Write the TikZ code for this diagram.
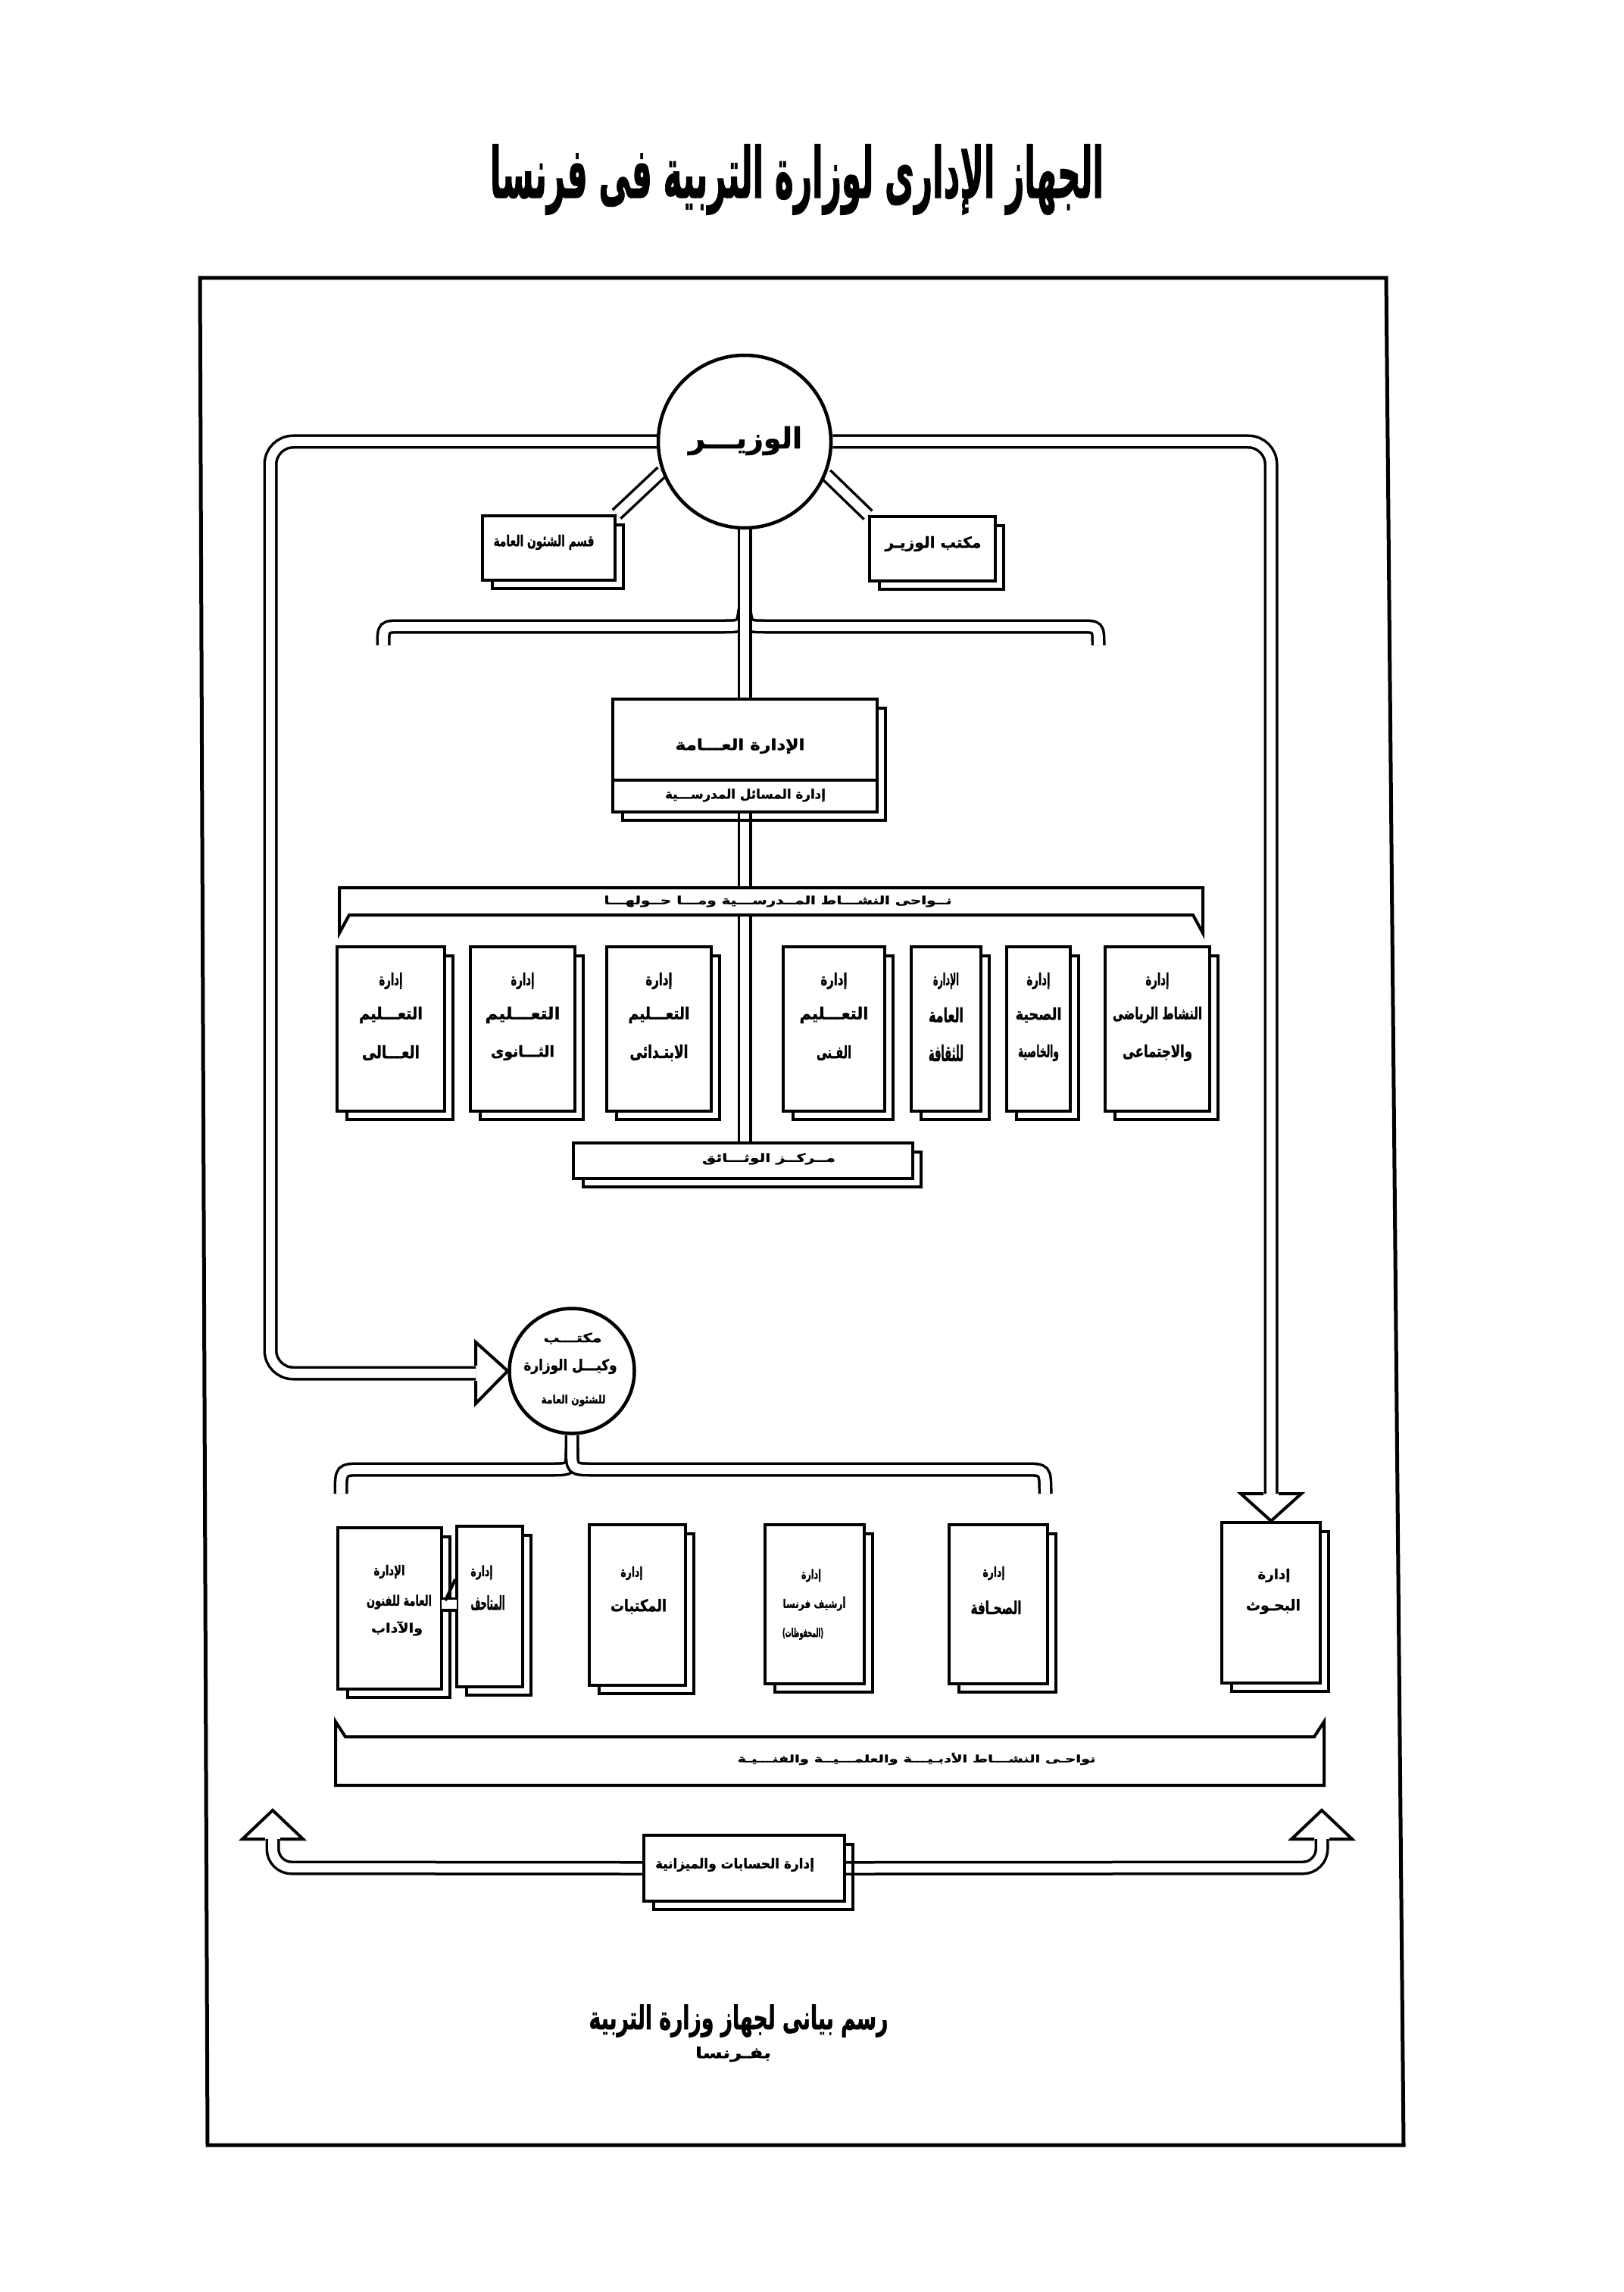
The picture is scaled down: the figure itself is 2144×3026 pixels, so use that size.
\documentclass[tikz,border=0pt]{standalone}
\usepackage{fontspec}
\usetikzlibrary{fit}
\newfontfamily\arfont[Script=Arabic, BoldFeatures={FakeBold=1.5}]{DejaVu Sans}
\TeXXeTstate=1
\newlength\pxu \setlength\pxu{0.1mm}
\newcommand{\AR}[3]{\resizebox*{#1\pxu}{#2\pxu}{\arfont\bfseries #3}}
\pgfdeclarelayer{back}\pgfdeclarelayer{bg}\pgfsetlayers{back,bg,main}
\newcommand{\shad}[1]{\draw[ln] ([yshift=-14\pxu]#1.north east) -- ++(9,0) |- ([xshift=15\pxu,yshift=-9\pxu]#1.south west) -- ([xshift=15\pxu]#1.south west);}
\begin{document}
\begin{tikzpicture}[x=0.1mm,y=-0.1mm,
 box/.style={draw, line width=4\pxu, fill=white, inner sep=0pt},
 ln/.style={line width=4\pxu, line join=miter},
 pipe/.style={double, double distance=12\pxu, line width=3.5\pxu},
 txt/.style={inner sep=0pt},
 circ/.style={circle, draw, line width=4.5\pxu, fill=white, inner sep=0pt}]
\useasboundingbox (0,0) rectangle (2144,3026);
\begin{pgfonlayer}{back}
\fill[white] (0,0) rectangle (2144,3026);
\end{pgfonlayer}
% title
\node[txt] (title) at (1052,237) {\AR{810}{93}{\beginR الجهاز الإدارى لوزارة التربية فى فرنسا\endR}};
% frame
\draw[line width=5\pxu] (264,367) -- (1830,367) -- (1853,2832) -- (274,2832) -- cycle;
% minister
\node[circ, minimum size=228\pxu] (min) at (983,583) {};
\node[txt] (mint) at (984,582) {\AR{150}{38}{\beginR الوزيـــر\endR}};
% small boxes
\node[box, fit={(637,681) (812,766)}] (qism) {};
\shad{qism}
\node[txt] (qismt) at (718,716) {\AR{133}{20}{\beginR قسم الشئون العامة\endR}};
\node[box, fit={(1148,682) (1314,767)}] (mkt) {};
\shad{mkt}
\node[txt] (mktt) at (1232,718) {\AR{127}{20}{\beginR مكتب الوزيـر\endR}};
% central box
\node[box, fit={(809,923) (1158,1072)}] (idara) {};
\shad{idara}
\draw[ln] (809,1030) -- (1158,1030);
\node[txt] (idarat) at (977,985) {\AR{171}{20}{\beginR الإدارة العـــامة\endR}};
\node[txt] (idarab) at (984,1050) {\AR{212}{17}{\beginR إدارة المسائل المدرســـية\endR}};
% bar 1
\draw[ln, fill=white] (448,1172) -- (1588,1172) -- (1588,1232) -- (1575,1208) -- (461,1208) -- (448,1232) -- cycle;
\node[txt] (bar1) at (1027,1190) {\AR{459}{15}{\beginR نــواحى النشـــاط المــدرســـية ومـــا حــولهـــا\endR}};
% seven boxes
\node[box, fit={(445,1250) (587,1467)}] (d1) {}; \shad{d1}
\node[box, fit={(621,1250) (759,1467)}] (d2) {}; \shad{d2}
\node[box, fit={(801,1250) (939,1467)}] (d3) {}; \shad{d3}
\node[box, fit={(1034,1250) (1168,1467)}] (d4) {}; \shad{d4}
\node[box, fit={(1203,1250) (1295,1467)}] (d5) {}; \shad{d5}
\node[box, fit={(1329,1250) (1413,1467)}] (d6) {}; \shad{d6}
\node[box, fit={(1459,1250) (1597,1467)}] (d7) {}; \shad{d7}
\node[txt] (d1a) at (516,1295) {\AR{31}{22}{\beginR إدارة\endR}};
\node[txt] (d1b) at (516,1340) {\AR{84}{22}{\beginR التعـــليم\endR}};
\node[txt] (d1c) at (516,1390) {\AR{76}{20}{\beginR العـــالى\endR}};
\node[txt] (d2a) at (690,1295) {\AR{31}{22}{\beginR إدارة\endR}};
\node[txt] (d2b) at (690,1340) {\AR{99}{22}{\beginR التعـــليم\endR}};
\node[txt] (d2c) at (690,1390) {\AR{84}{20}{\beginR الثـــانوى\endR}};
\node[txt] (d3a) at (870,1295) {\AR{35}{22}{\beginR إدارة\endR}};
\node[txt] (d3b) at (870,1340) {\AR{81}{22}{\beginR التعـــليم\endR}};
\node[txt] (d3c) at (870,1390) {\AR{77}{22}{\beginR الابتـدائى\endR}};
\node[txt] (d4a) at (1101,1295) {\AR{35}{22}{\beginR إدارة\endR}};
\node[txt] (d4b) at (1101,1340) {\AR{91}{22}{\beginR التعـــليم\endR}};
\node[txt] (d4c) at (1101,1390) {\AR{46}{20}{\beginR الفـنى\endR}};
\node[txt] (d5a) at (1249,1295) {\AR{34}{22}{\beginR الإدارة\endR}};
\node[txt] (d5b) at (1249,1340) {\AR{46}{20}{\beginR العامة\endR}};
\node[txt] (d5c) at (1249,1390) {\AR{46}{22}{\beginR للثقافة\endR}};
\node[txt] (d6a) at (1371,1295) {\AR{31}{22}{\beginR إدارة\endR}};
\node[txt] (d6b) at (1371,1340) {\AR{61}{20}{\beginR الصحية\endR}};
\node[txt] (d6c) at (1371,1390) {\AR{54}{22}{\beginR والخاصية\endR}};
\node[txt] (d7a) at (1528,1295) {\AR{31}{22}{\beginR إدارة\endR}};
\node[txt] (d7b) at (1528,1340) {\AR{118}{22}{\beginR النشاط الرياضى\endR}};
\node[txt] (d7c) at (1528,1390) {\AR{92}{22}{\beginR والاجتماعى\endR}};
% markaz
\node[box, fit={(757,1509) (1205,1556)}] (markaz) {};
\shad{markaz}
\node[txt] (markazt) at (1015,1530) {\AR{176}{15}{\beginR مــركــز الوثـــائق\endR}};
% circle 2
\node[circ, minimum size=165\pxu] (c2) at (755,1810) {};
\node[txt] (c2a) at (756,1767) {\AR{77}{15}{\beginR مكتـــب\endR}};
\node[txt] (c2b) at (753,1804) {\AR{123}{20}{\beginR وكيـــل الوزارة\endR}};
\node[txt] (c2c) at (757,1849) {\AR{85}{15}{\beginR للشئون العامة\endR}};
% bottom boxes
\node[box, fit={(446,2017) (583,2230)}] (b1) {}; \shad{b1}
\node[box, fit={(603,2015) (690,2227)}] (b2) {}; \shad{b2}
\node[box, fit={(778,2013) (905,2225)}] (b3) {}; \shad{b3}
\node[box, fit={(1010,2013) (1141,2223)}] (b4) {}; \shad{b4}
\node[box, fit={(1253,2013) (1383,2223)}] (b5) {}; \shad{b5}
\node[box, fit={(1613,2010) (1743,2222)}] (bah) {}; \shad{bah}
\node[txt] (b1a) at (514,2075) {\AR{41}{18}{\beginR الإدارة\endR}};
\node[txt] (b1b) at (527,2115) {\AR{86}{19}{\beginR العامة للفنون\endR}};
\node[txt] (b1c) at (524,2150) {\AR{68}{19}{\beginR والآداب\endR}};
\node[txt] (b2a) at (636,2076) {\AR{29}{19}{\beginR إدارة\endR}};
\node[txt] (b2b) at (644,2116) {\AR{45}{20}{\beginR المتاحف\endR}};
\node[txt] (b3a) at (834,2077) {\AR{29}{18}{\beginR إدارة\endR}};
\node[txt] (b3b) at (843,2121) {\AR{74}{20}{\beginR المكتبات\endR}};
\node[txt] (b4a) at (1071,2080) {\AR{26}{17}{\beginR إدارة\endR}};
\node[txt] (b4b) at (1075,2117) {\AR{83}{19}{\beginR أرشيف فرنسا\endR}};
\node[txt] (b4c) at (1060,2157) {\AR{54}{16}{\beginR (المحفوظات)\endR}};
\node[txt] (b5a) at (1312,2077) {\AR{29}{18}{\beginR إدارة\endR}};
\node[txt] (b5b) at (1315,2122) {\AR{67}{18}{\beginR الصحـافة\endR}};
\node[txt] (baha) at (1682,2080) {\AR{43}{18}{\beginR إدارة\endR}};
\node[txt] (bahb) at (1681,2121) {\AR{72}{20}{\beginR البحـوث\endR}};
\coordinate (lk1) at (583,2118);
\coordinate (lk2) at (603,2118);
\coordinate (lk3) at (588,2113);
\coordinate (lk4) at (601,2085);
\draw[pipe] (lk1) -- (lk2);
\draw[ln] (lk3) -- (lk4);
% bar 2
\draw[ln, fill=white] (443,2357) -- (1748,2357) -- (1748,2273) -- (1735,2293) -- (456,2293) -- (443,2273) -- cycle;
\node[txt] (bar2) at (1210,2322) {\AR{473}{16}{\beginR نواحـى النشـــاط الأدبـيـــة والعلمـــيــة والفنـــيـة\endR}};
% accounts
\node[box, fit={(850,2423) (1115,2510)}] (acc) {};
\shad{acc}
\node[txt] (acct) at (970,2462) {\AR{210}{18}{\beginR إدارة الحسابات والميزانية\endR}};
% caption
\node[txt] (cap1) at (975,2668) {\AR{395}{43}{\beginR رسم بيانى لجهاز وزارة التربية\endR}};
\node[txt] (cap2) at (968,2712) {\AR{100}{20}{\beginR بفـرنسا\endR}};
% pipes on background
\begin{pgfonlayer}{bg}
\draw[pipe] (506,852) .. controls (506,827) .. (531,827) -- (955,827) .. controls (980,827) .. (983,805);
\draw[pipe] (1450,852) .. controls (1450,827) .. (1425,827) -- (1011,827) .. controls (986,827) .. (983,805);
\draw[pipe] (min.south) -- (min.south |- markaz.north);
\draw[pipe] (min.200) -- (qism.north east);
\draw[pipe] (min.338) -- (mkt.north west);
\draw[pipe, rounded corners=30\pxu] (min.west) -- (357,583) -- (357,1813) -- (628,1813);
\draw[pipe, rounded corners=30\pxu] (min.east) -- (1678,583) -- (1678,1972);
\draw[pipe] (c2.south) -- (755,1912) .. controls (755,1940) .. (727,1940) -- (478,1940) .. controls (450,1940) .. (450,1972);
\draw[pipe] (755,1912) .. controls (755,1940) .. (783,1940) -- (1352,1940) .. controls (1380,1940) .. (1380,1972);
\draw[pipe, rounded corners=25\pxu] (acc.west) -- (360,2466) -- (360,2428);
\draw[pipe, rounded corners=25\pxu] (acc.east) -- (1745,2466) -- (1745,2428);
\end{pgfonlayer}
% arrow heads
\draw[ln] (628,1803) -- (628,1772) -- (c2.west) -- (628,1853) -- (628,1823);
\draw[ln] (1668,1972) -- (1638,1972) -- (bah.north) -- (1718,1972) -- (1688,1972);
\draw[ln] (350,2428) -- (320,2428) -- (360,2390) -- (400,2428) -- (370,2428);
\draw[ln] (1735,2428) -- (1705,2428) -- (1745,2390) -- (1785,2428) -- (1755,2428);
\end{tikzpicture}
\end{document}
